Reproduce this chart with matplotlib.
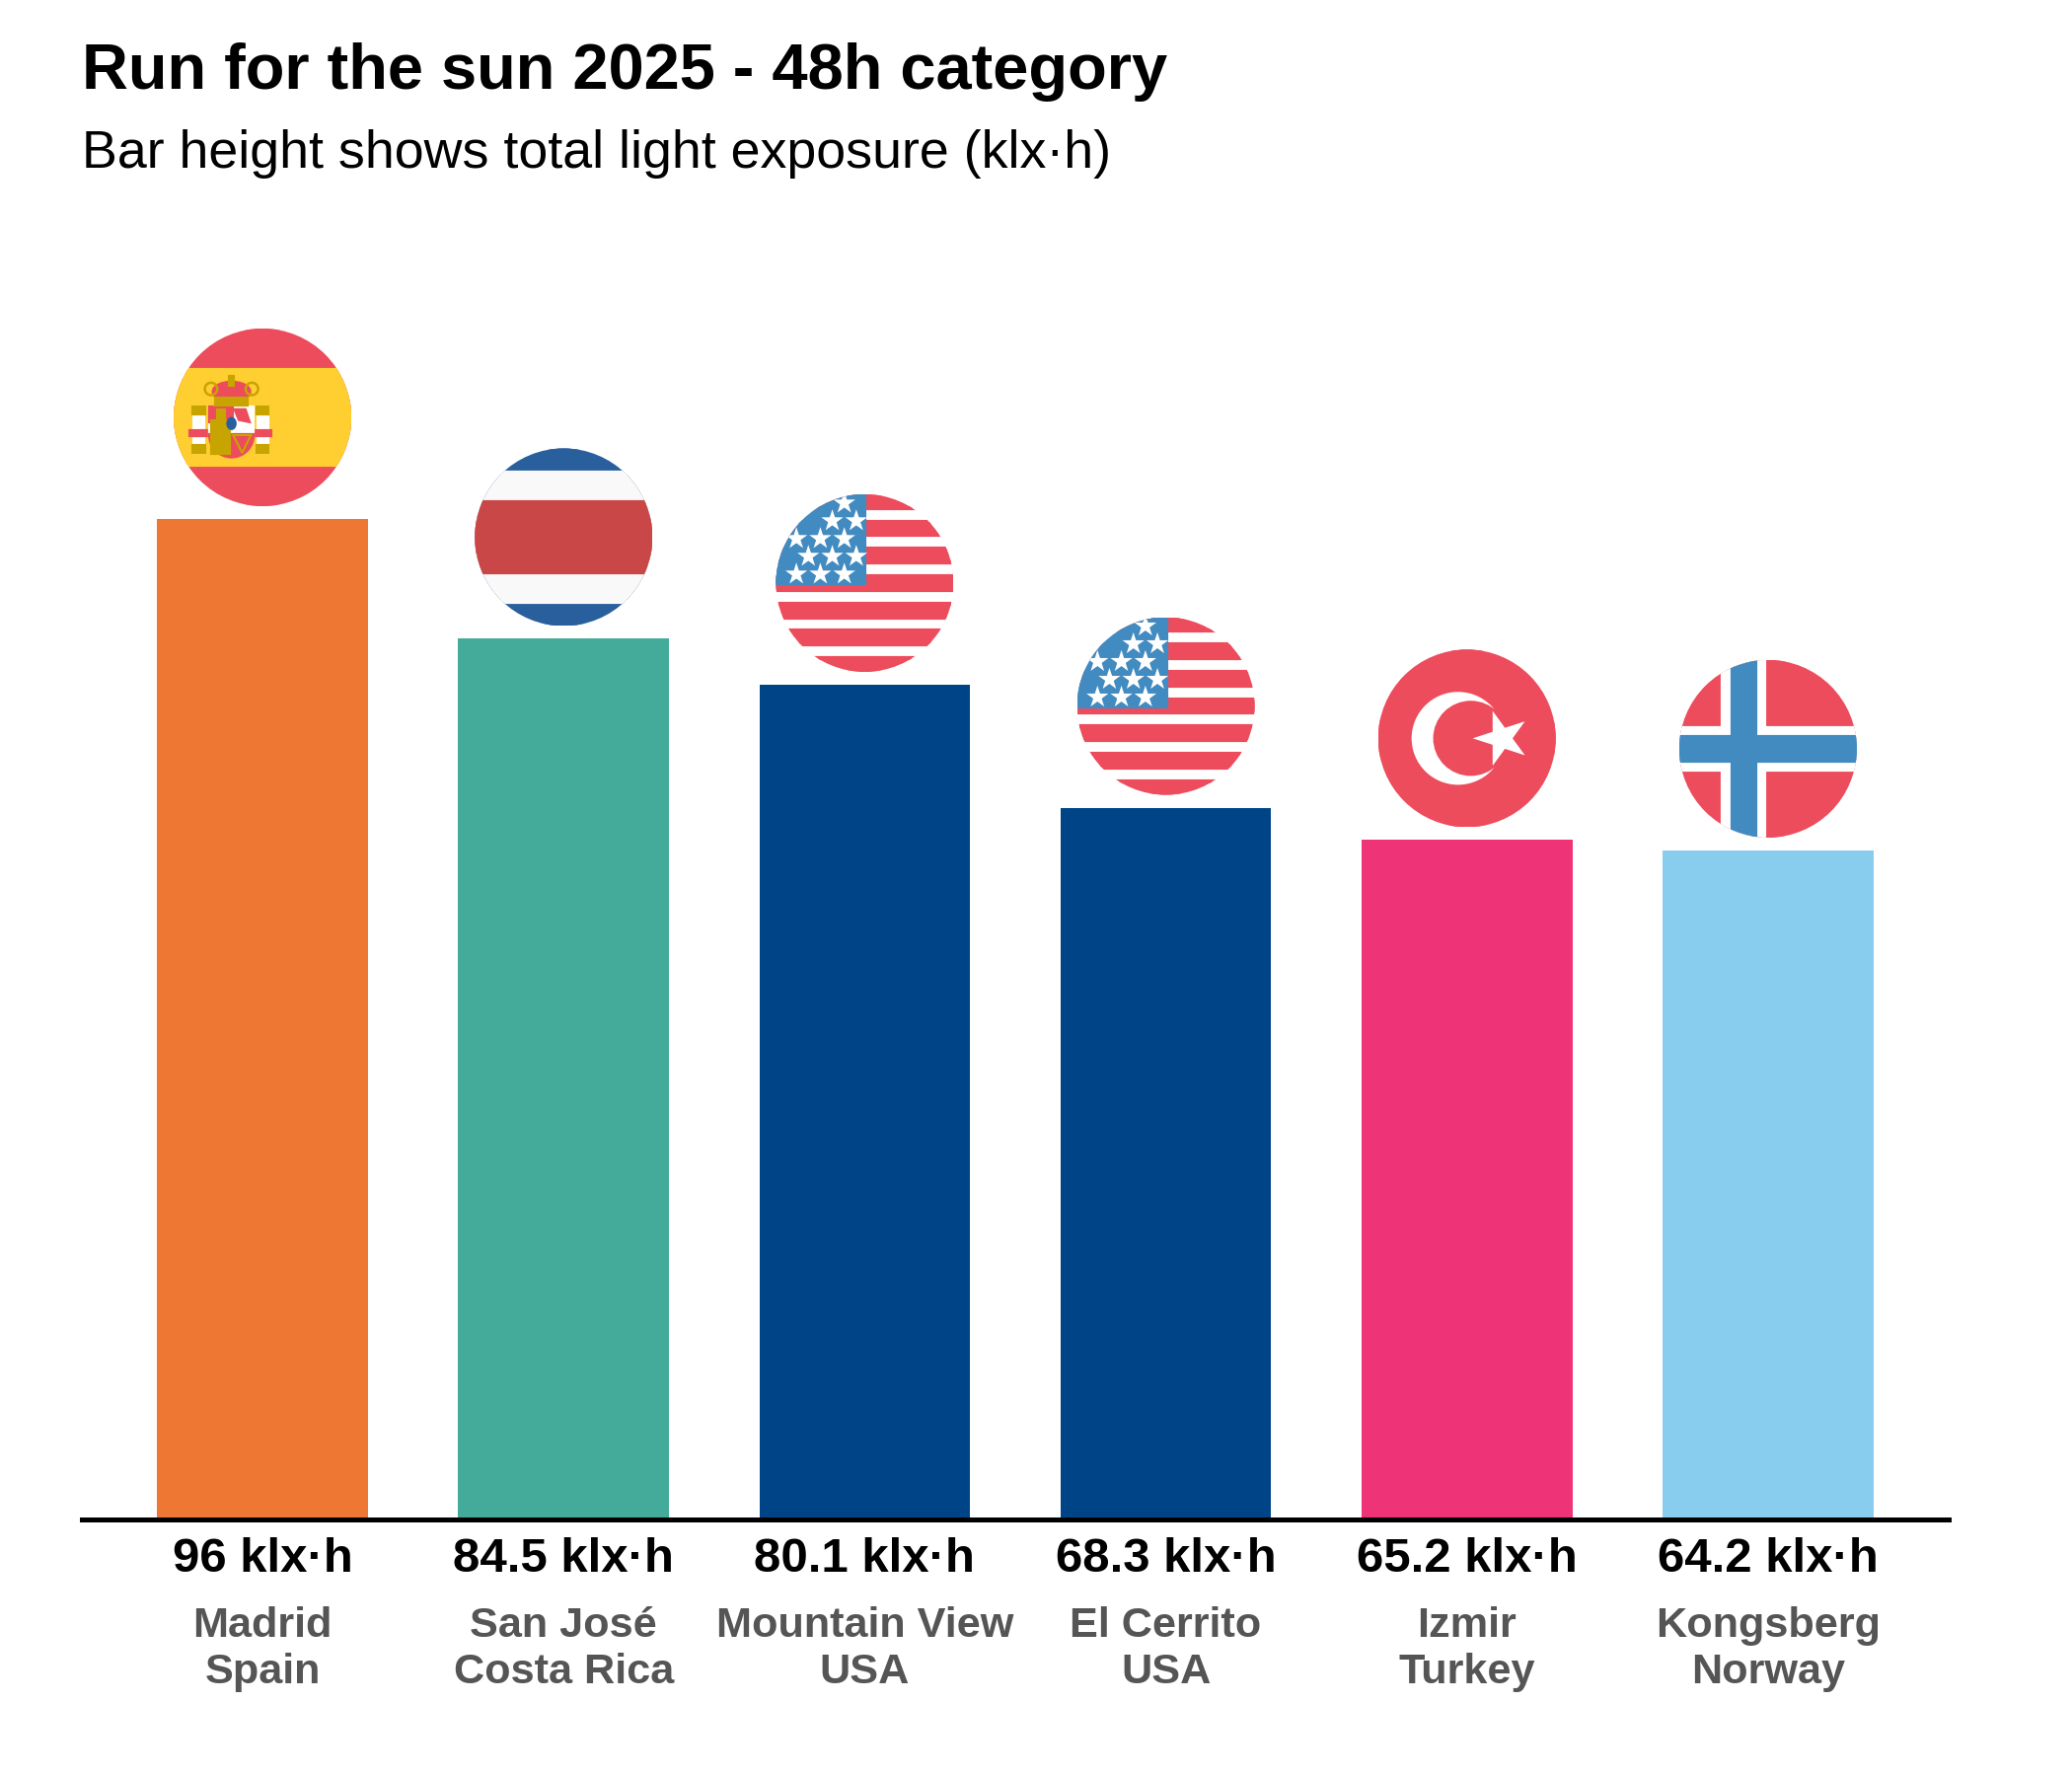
import numpy as np
import matplotlib.pyplot as plt
from matplotlib.patches import Circle, Rectangle, Polygon, Wedge, Ellipse

cities = ["Madrid", "San José", "Mountain View", "El Cerrito", "Izmir", "Kongsberg"]
countries = ["Spain", "Costa Rica", "USA", "USA", "Turkey", "Norway"]
exposure = [96, 84.5, 80.1, 68.3, 65.2, 64.2]
bar_colors = ["#EE7733", "#44AA99", "#004488", "#004488", "#EE3377", "#88CCEE"]
flag_codes = ["es", "cr", "us", "us", "tr", "no"]

RED = "#ED4C5C"
BLUE = "#428BC1"
YELLOW = "#FFCE31"
GOLD = "#C8A400"

plt.rcParams['font.family'] = ['Liberation Sans', 'DejaVu Sans']

W, H = 2100, 1800
fig = plt.figure(figsize=(7, 6), dpi=300)
ax = fig.add_axes([83 / W, 260 / H, 1892 / W, 1220 / H])

x = np.arange(len(cities))
ax.bar(x, exposure, width=0.7, color=bar_colors)
ax.set_xlim(-0.6, len(cities) - 0.4)
ax.set_ylim(0, 115.5)
for s in ['top', 'right', 'left']:
    ax.spines[s].set_visible(False)
ax.spines['bottom'].set_linewidth(1.2)
ax.set_xticks([])
ax.set_yticks([])

for i in range(len(cities)):
    ax.annotate(f"{exposure[i]:g} klx·h", (x[i], 0), xytext=(0, -9.7),
                textcoords='offset points', ha='center', va='center',
                fontsize=11.8, fontweight='bold', color='black')
    ax.annotate(cities[i], (x[i], 0), xytext=(0, -25.9),
                textcoords='offset points', ha='center', va='center',
                fontsize=10.4, fontweight='bold', color='#555555')
    ax.annotate(countries[i], (x[i], 0), xytext=(0, -37.1),
                textcoords='offset points', ha='center', va='center',
                fontsize=10.4, fontweight='bold', color='#555555')

fig.text(83 / W, 1 - 90 / H, "Run for the sun 2025 - 48h category",
         fontsize=15.6, fontweight='bold', va='baseline', ha='left')
fig.text(83 / W, 1 - 170 / H, "Bar height shows total light exposure (klx·h)",
         fontsize=12.9, va='baseline', ha='left')


def star(cx, cy, R, rot=90):
    pts = []
    for k in range(10):
        r = R if k % 2 == 0 else R * 0.382
        a = np.radians(rot + k * 36)
        pts.append((cx + r * np.cos(a), cy + r * np.sin(a)))
    return pts


def draw_flag(fax, code):
    clip = Circle((0, 0), 1, transform=fax.transData)
    parts = []
    if code == "es":
        parts.append(Rectangle((-1, -1), 2, 2, color=RED))
        parts.append(Rectangle((-1, -0.53), 2, 1.06, color=YELLOW))
        # simplified coat of arms
        for px in (-0.72, 0.0):
            parts.append(Rectangle((px - 0.05, -0.39), 0.1, 0.5, color="white"))
            parts.append(Rectangle((px - 0.06, 0.04), 0.12, 0.07, color=GOLD))
            parts.append(Rectangle((px - 0.06, -0.39), 0.12, 0.07, color=GOLD))
            parts.append(Rectangle((px - 0.09, -0.2), 0.18, 0.04, color=RED))
        parts.append(Rectangle((-0.59, -0.2), 0.48, 0.31, color="white"))
        parts.append(Rectangle((-0.59, -0.05), 0.24, 0.16, color=RED))
        parts.append(Rectangle((-0.5, -0.04), 0.07, 0.12, color=GOLD))
        parts.append(Wedge((-0.35, -0.2), 0.24, 180, 360, color=RED))
        for k in range(4):
            parts.append(Rectangle((-0.565 + k * 0.055, -0.4), 0.025, 0.35, color=GOLD))
        parts.append(Polygon([(-0.33, -0.2), (-0.13, -0.2), (-0.23, -0.4)],
                             edgecolor=GOLD, fill=False, lw=0.5))
        parts.append(Polygon([(-0.3, 0.08), (-0.2, 0.08), (-0.16, -0.04), (-0.26, -0.02)],
                             color=RED))
        parts.append(Ellipse((-0.35, -0.07), 0.07, 0.1, color="#2A5F9E"))
        parts.append(Ellipse((-0.35, 0.29), 0.4, 0.2, color=RED))
        parts.append(Rectangle((-0.52, 0.14), 0.34, 0.07, color=GOLD))
        parts.append(Rectangle((-0.365, 0.37), 0.03, 0.09, color=GOLD))
        parts.append(Circle((-0.58, 0.32), 0.07, edgecolor=GOLD, fill=False, lw=0.6))
        parts.append(Circle((-0.12, 0.32), 0.07, edgecolor=GOLD, fill=False, lw=0.6))
    elif code == "cr":
        parts.append(Rectangle((-1, -1), 2, 2, color="#2A5F9E"))
        parts.append(Rectangle((-1, -0.732), 2, 1.464, color="#F9F9F9"))
        parts.append(Rectangle((-1, -0.394), 2, 0.788, color="#C94747"))
    elif code == "us":
        parts.append(Rectangle((-1, -1), 2, 2, color="white"))
        h = 2 / 13
        for k in range(0, 13, 2):
            parts.append(Rectangle((-1, 1 - (k + 1) * h), 2, h, color=RED))
        parts.append(Rectangle((-1, 0), 1, 1, color=BLUE))
        for k in range(5):
            y0 = 0.9 - 0.2 * k
            x0 = -0.23 if k % 2 == 0 else -0.095
            for j in range(4):
                xs = x0 - 0.27 * j
                if xs ** 2 + y0 ** 2 < 0.93 ** 2:
                    parts.append(Polygon(star(xs, y0, 0.055), color="white"))
    elif code == "tr":
        parts.append(Rectangle((-1, -1), 2, 2, color=RED))
        parts.append(Circle((-0.1, 0), 0.5, color="white"))
        parts.append(Circle((0.043, 0), 0.4, color=RED))
        parts.append(Polygon(star(0.39, 0, 0.25, rot=180), color="white"))
    elif code == "no":
        parts.append(Rectangle((-1, -1), 2, 2, color=RED))
        parts.append(Rectangle((-0.51, -1), 0.47, 2, color="white"))
        parts.append(Rectangle((-1, -0.24), 2, 0.47, color="white"))
        parts.append(Rectangle((-0.4, -1), 0.255, 2, color=BLUE))
        parts.append(Rectangle((-1, -0.14), 2, 0.27, color=BLUE))
    for p in parts:
        fax.add_patch(p)
        p.set_clip_path(clip)


# flags sit just above each bar
r_px = 90
for i in range(len(cities)):
    bx, by = ax.transData.transform((x[i], exposure[i]))
    cx, cy = bx, by + 103
    fax = fig.add_axes([(cx - r_px) / W, (cy - r_px) / H, 2 * r_px / W, 2 * r_px / H])
    fax.set_xlim(-1, 1)
    fax.set_ylim(-1, 1)
    fax.axis('off')
    draw_flag(fax, flag_codes[i])

fig.savefig("out.png", dpi=300)
